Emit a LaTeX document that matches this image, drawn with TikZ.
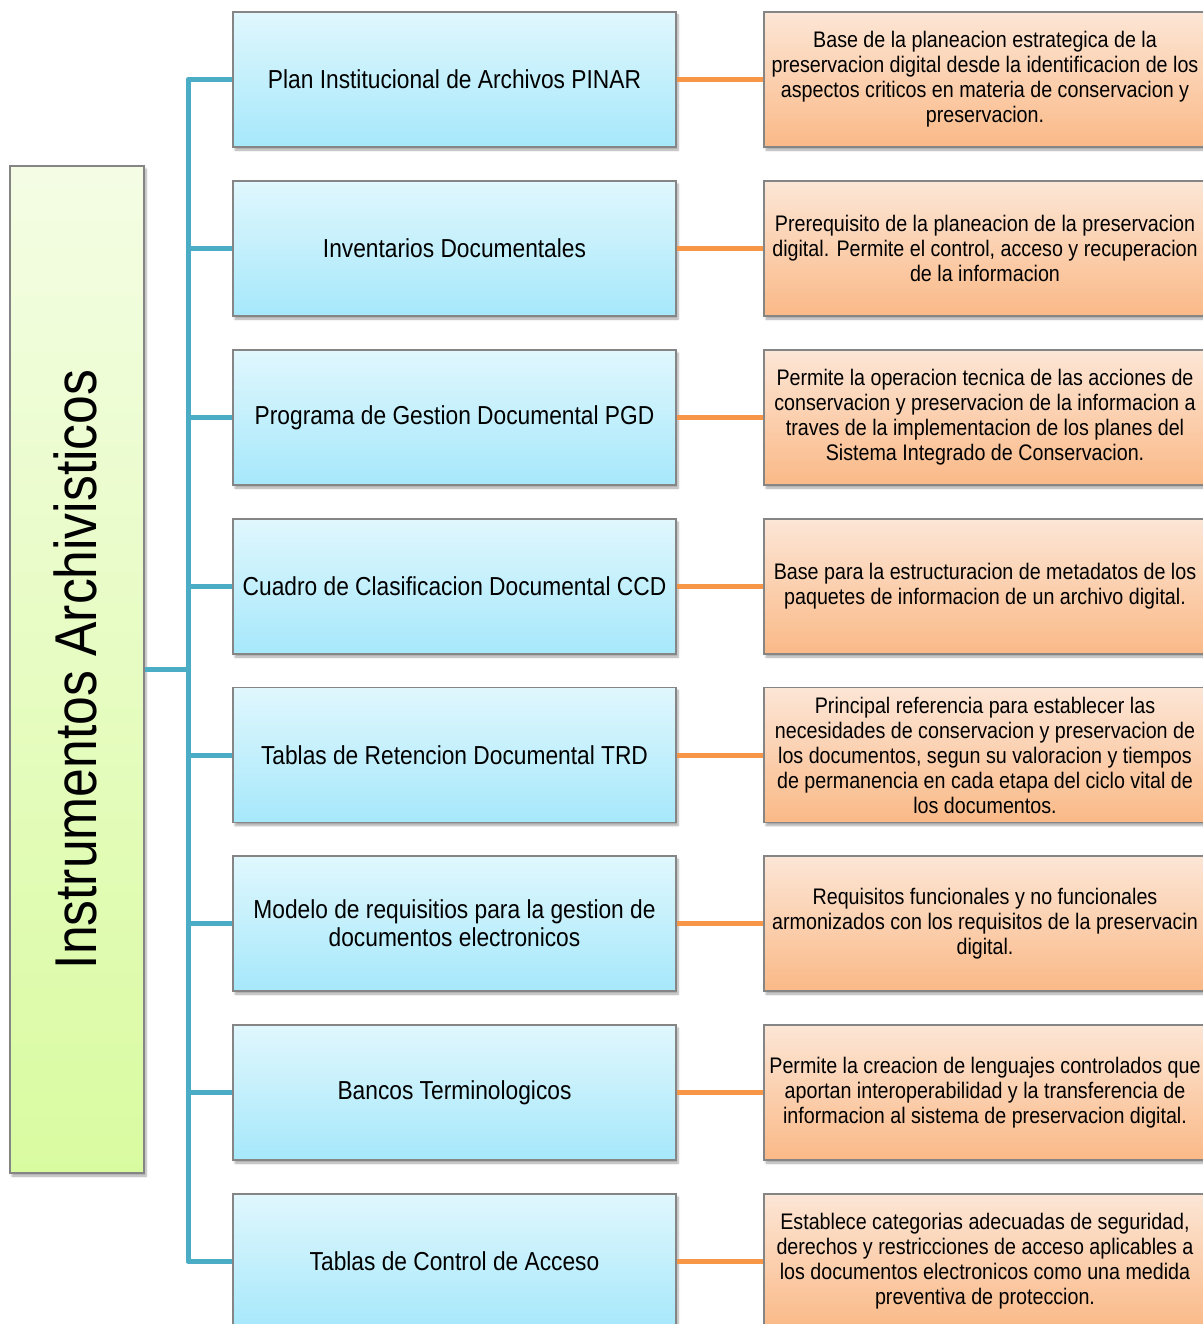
\documentclass[tikz,border=0pt]{standalone}
\usepackage{fontspec}
\setmainfont{Liberation Sans}[FakeStretch=0.875]
\usetikzlibrary{shadows.blur}
\definecolor{tealline}{HTML}{4BACC6}
\definecolor{orangeline}{HTML}{F79646}
\definecolor{boxframe}{HTML}{858585}
\tikzset{
  boxbase/.style={draw=boxframe, line width=1.2pt, inner sep=4pt, align=center,
    blur shadow={shadow xshift=2pt, shadow yshift=-3pt, shadow blur steps=6, shadow opacity=35}},
  midbox/.style={boxbase, minimum width=443pt, minimum height=135pt,
    top color={rgb,255:red,224;green,247;blue,253}, bottom color={rgb,255:red,166;green,232;blue,251},
    font=\fontsize{26}{28}\selectfont},
  rgtbox/.style={boxbase, minimum width=442pt, minimum height=135pt,
    top color={rgb,255:red,252;green,230;blue,214}, bottom color={rgb,255:red,250;green,185;blue,135},
    font=\fontsize{22.5}{25}\selectfont},
  lftbox/.style={boxbase, minimum width=134pt, minimum height=1007pt,
    top color={rgb,255:red,244;green,253;blue,228}, bottom color={rgb,255:red,217;green,251;blue,160}},
  busline/.style={draw=tealline, line width=5pt},
  linkline/.style={draw=orangeline, line width=5pt},
}
\begin{document}
\begin{tikzpicture}[x=1pt,y=-1pt]
\useasboundingbox (0,0) rectangle (1202,1324);
% left
\node[lftbox] (L) at (77,669.5) {};
\node[rotate=90, font=\fontsize{59}{62}\selectfont] (Ltext) at (75,669.5) {Instrumentos Archivisticos};
% middle boxes
\node[midbox] (m1) at (454.5,79.5) {Plan Institucional de Archivos PINAR};
\node[midbox] (m2) at (454.5,248.5) {Inventarios Documentales};
\node[midbox] (m3) at (454.5,417.5) {Programa de Gestion Documental PGD};
\node[midbox] (m4) at (454.5,586.5) {Cuadro de Clasificacion Documental CCD};
\node[midbox] (m5) at (454.5,755) {Tablas de Retencion Documental TRD};
\node[midbox] (m6) at (454.5,923.5) {Modelo de requisitios para la gestion de\\documentos electronicos};
\node[midbox] (m7) at (454.5,1092.5) {Bancos Terminologicos};
\node[midbox] (m8) at (454.5,1261.5) {Tablas de Control de Acceso};
% right boxes
\node[rgtbox] (r1) at (985,79.5) {Base de la planeacion estrategica de la\\preservacion digital desde la identificacion de los\\aspectos criticos en materia de conservacion y\\preservacion.};
\node[rgtbox] (r2) at (985,248.5) {Prerequisito de la planeacion de la preservacion\\digital. Permite el control, acceso y recuperacion\\de la informacion};
\node[rgtbox] (r3) at (985,417.5) {Permite la operacion tecnica de las acciones de\\conservacion y preservacion de la informacion a\\traves de la implementacion de los planes del\\Sistema Integrado de Conservacion.};
\node[rgtbox] (r4) at (985,586.5) {Base para la estructuracion de metadatos de los\\paquetes de informacion de un archivo digital.};
\node[rgtbox] (r5) at (985,755) {Principal referencia para establecer las\\necesidades de conservacion y preservacion de\\los documentos, segun su valoracion y tiempos\\de permanencia en cada etapa del ciclo vital de\\los documentos.};
\node[rgtbox] (r6) at (985,923.5) {Requisitos funcionales y no funcionales\\armonizados con los requisitos de la preservacin\\digital.};
\node[rgtbox] (r7) at (985,1092.5) {Permite la creacion de lenguajes controlados que\\aportan interoperabilidad y la transferencia de\\informacion al sistema de preservacion digital.};
\node[rgtbox] (r8) at (985,1261.5) {Establece categorias adecuadas de seguridad,\\derechos y restricciones de acceso aplicables a\\los documentos electronicos como una medida\\preventiva de proteccion.};
% connectors
\coordinate (bus) at (188,0);
\draw[busline] (L.east) -- (L.east -| bus);
\draw[busline, line cap=round] (m1.west -| bus) -- (m8.west -| bus);
\foreach \i in {1,...,8} {
  \draw[busline] (m\i.west -| bus) -- (m\i.west);
  \draw[linkline] (m\i.east) -- (r\i.west);
}
\end{tikzpicture}
\end{document}
